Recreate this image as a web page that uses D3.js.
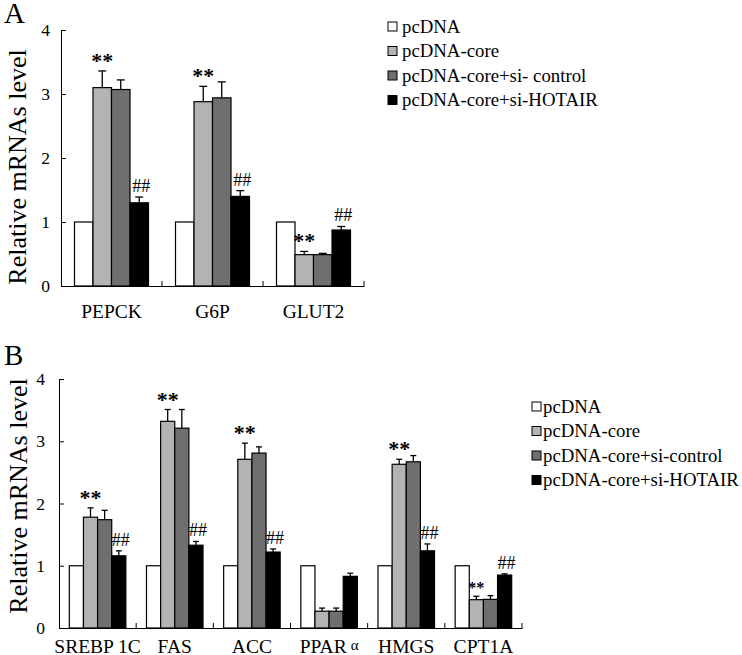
<!DOCTYPE html>
<html>
  <head>
    <meta charset="utf-8">
    <title>Relative mRNAs level</title>
    <script src="https://d3js.org/d3.v7.min.js"></script>
    <style>
      body { margin: 0; background: #fff; }
      svg { font-family: "Liberation Serif", "Times New Roman", serif; }
    </style>
  </head>
  <body>
    <svg id="chart" width="742" height="655"></svg>
    <script>
      // data
      colours = ["#ffffff", "#b3b3b3", "#6f6f6f", "#000000"];
      yTicks = [0, 1, 2, 3, 4];
      // panel A
      seriesA = ["pcDNA", "pcDNA-core", "pcDNA-core+si- control", "pcDNA-core+si-HOTAIR"];
      genesA = ["PEPCK", "G6P", "GLUT2"];
      meansA = [[1, 3.10, 3.07, 1.30], [1, 2.88, 2.94, 1.40], [1, 0.49, 0.49, 0.875]];
      errorsA = [[0, 0.26, 0.15, 0.09], [0, 0.24, 0.25, 0.09], [0, 0.05, 0.02, 0.055]];
      marksA = [["", "**", "", "##"], ["", "**", "", "##"], ["", "**", "", "##"]];
      // panel B
      seriesB = ["pcDNA", "pcDNA-core", "pcDNA-core+si-control", "pcDNA-core+si-HOTAIR"];
      genesB = ["SREBP 1C", "FAS", "ACC", "PPARα", "HMGS", "CPT1A"];
      meansB = [[1, 1.78, 1.74, 1.16], [1, 3.32, 3.21, 1.33], [1, 2.71, 2.81, 1.22],
                [1, 0.27, 0.27, 0.83], [1, 2.63, 2.67, 1.24], [1, 0.455, 0.46, 0.85]];
      errorsB = [[0, 0.15, 0.15, 0.08], [0, 0.19, 0.30, 0.06], [0, 0.26, 0.10, 0.05],
                 [0, 0.05, 0.05, 0.05], [0, 0.08, 0.10, 0.11], [0, 0.055, 0.06, 0.02]];
      marksB = [["", "**", "", "##"], ["", "**", "", "##"], ["", "**", "", "##"],
                ["", "", "", ""], ["", "**", "", "##"], ["", "**", "", "##"]];

      svg = d3.select("#chart");

      drawPanel({
        letter: "A", letterY: 23,
        genes: genesA, means: meansA, errors: errorsA, marks: marksA, series: seriesA,
        left: 61, right: 364, top: 30, bottom: 286,
        tickPad: 11, labelPad: 18, labelSize: 19.5, cap: 8,
        titleX: 26, titleY: 167,
        legendX: 388, legendY: 26, legendGap: 14, legendSize: 18.8
      });
      drawPanel({
        letter: "B", letterY: 365,
        genes: genesB, means: meansB, errors: errorsB, marks: marksB, series: seriesB,
        left: 59, right: 522, top: 379, bottom: 628,
        tickPad: 14, labelPad: 11, labelSize: 19.5, cap: 6,
        titleX: 27, titleY: 496,
        legendX: 532, legendY: 406, legendGap: 11, legendSize: 18.8
      });

      function drawPanel(p) {
        let g = svg.append("g");
        let y = d3.scaleLinear().domain([0, 4]).range([p.bottom, p.top]);
        let x0 = d3.scaleBand().domain(p.genes).range([p.left, p.right]);
        let x1 = d3.scaleBand().domain(d3.range(4))
          .range([0, x0.bandwidth()])
          .paddingOuter(0.73);
        // panel letter
        g.append("text")
          .attr("x", 4)
          .attr("y", p.letterY)
          .attr("font-size", "29px")
          .text(p.letter);
        // y axis
        let yAxis = g.append("g")
          .attr("transform", "translate(" + p.left + ",0)")
          .call(d3.axisLeft(y)
            .tickValues(yTicks)
            .tickFormat(d3.format("d"))
            .tickSize(-5)
            .tickSizeOuter(0)
            .tickPadding(p.tickPad));
        yAxis.attr("font-family", null).attr("font-size", "17.5px");
        yAxis.selectAll("text").attr("fill", "#000");
        // y title
        g.append("text")
          .attr("transform", "translate(" + p.titleX + "," + p.titleY + ") rotate(-90)")
          .attr("text-anchor", "middle")
          .attr("font-size", "26px")
          .text("Relative mRNAs level");
        // bars
        let groups = g.selectAll(".gene")
            .data(p.genes)
          .enter().append("g")
            .attr("transform", function(d) { return "translate(" + x0(d) + ",0)"; });
        groups.each(function(gene, gi) {
          let grp = d3.select(this);
          let rows = p.means[gi].map(function(v, i) {
            return { i: i, v: v, e: p.errors[gi][i], m: p.marks[gi][i] };
          });
          // error bars first so bar outline covers the stem base
          rows.filter(function(d) { return d.e > 0; }).forEach(function(d) {
            let cx = x1(d.i) + x1.bandwidth() / 2;
            grp.append("line")
              .attr("x1", cx).attr("x2", cx)
              .attr("y1", y(d.v)).attr("y2", y(d.v + d.e))
              .attr("stroke", "#000").attr("stroke-width", 1.3);
            grp.append("line")
              .attr("x1", cx - p.cap / 2).attr("x2", cx + p.cap / 2)
              .attr("y1", y(d.v + d.e)).attr("y2", y(d.v + d.e))
              .attr("stroke", "#000").attr("stroke-width", 1.3);
          });
          grp.selectAll("rect")
              .data(rows)
            .enter().append("rect")
              .attr("x", function(d) { return x1(d.i); })
              .attr("y", function(d) { return y(d.v); })
              .attr("width", x1.bandwidth())
              .attr("height", function(d) { return y(0) - y(d.v); })
              .attr("fill", function(d) { return colours[d.i]; })
              .attr("stroke", "#000")
              .attr("stroke-width", 1.2);
          // significance marks
          let small = gene === "CPT1A";
          rows.filter(function(d) { return d.m; }).forEach(function(d) {
            let star = d.m === "**";
            grp.append("text")
              .attr("x", x1(d.i) + x1.bandwidth() / 2 + (star ? 0 : 2))
              .attr("y", y(d.v + d.e) - (star ? 3 : 5))
              .attr("text-anchor", "middle")
              .attr("font-weight", star ? "bold" : null)
              .attr("font-size", star ? (small ? "16px" : "22px") : "18px")
              .text(d.m);
          });
        });
        // x axis with labels
        let xAxis = g.append("g")
          .attr("transform", "translate(0," + p.bottom + ")")
          .call(d3.axisBottom(x0).tickSize(0).tickSizeOuter(0).tickPadding(p.labelPad));
        xAxis.attr("font-family", null).attr("font-size", p.labelSize + "px");
        xAxis.selectAll("text").attr("fill", "#000");
        xAxis.selectAll("text")
          .filter(function(d) { return d === "PPARα"; })
          .text("PPAR")
          .append("tspan")
            .attr("dx", 4)
            .attr("dy", -3)
            .attr("font-size", "15px")
            .text("α");
        // group boundary ticks pointing up
        xAxis.selectAll(".bound")
            .data(p.genes)
          .enter().append("line")
            .attr("x1", function(d) { return x0(d) + x0.bandwidth(); })
            .attr("x2", function(d) { return x0(d) + x0.bandwidth(); })
            .attr("y1", 0).attr("y2", -5)
            .attr("stroke", "#000");
        // legend
        let legend = g.append("g")
          .attr("transform", "translate(" + p.legendX + "," + p.legendY + ")");
        let items = legend.selectAll(".item")
            .data(p.series)
          .enter().append("g")
            .attr("transform", function(d, i) { return "translate(0," + (i * 24.5) + ")"; });
        items.append("rect")
          .attr("x", 0).attr("y", -4)
          .attr("width", 9).attr("height", 9)
          .attr("fill", function(d, i) { return colours[i]; })
          .attr("stroke", "#000");
        items.append("text")
          .attr("x", p.legendGap)
          .attr("y", 0)
          .attr("dy", "0.35em")
          .attr("font-size", p.legendSize + "px")
          .text(function(d) { return d; });
      }
    </script>
  </body>
</html>
